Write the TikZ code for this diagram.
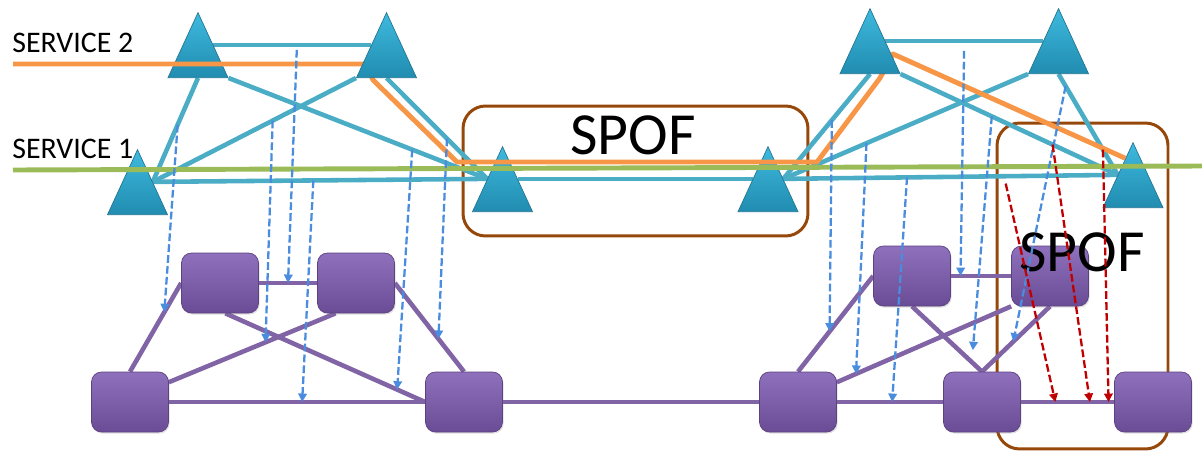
\documentclass[tikz,border=0pt]{standalone}
\usepackage{fontspec}
\setmainfont{Carlito}
\usetikzlibrary{arrows.meta,
                calc,
                shadows,
                shapes.geometric}

\definecolor{vlinkc}{RGB}{75,172,198}
\definecolor{tritop}{RGB}{62,186,222}
\definecolor{tribot}{RGB}{32,140,176}
\definecolor{triedge}{RGB}{36,118,148}
\definecolor{plinkc}{RGB}{128,100,165}
\definecolor{sqtop}{RGB}{142,112,188}
\definecolor{sqbot}{RGB}{106,76,150}
\definecolor{sqedge}{RGB}{92,66,128}
\definecolor{svcgreen}{RGB}{155,187,89}
\definecolor{svcorange}{RGB}{247,150,70}
\definecolor{mapblue}{RGB}{74,140,222}
\definecolor{spofred}{RGB}{192,0,0}
\definecolor{spofbrown}{RGB}{150,72,10}

\pgfdeclarelayer{back}
\pgfdeclarelayer{front}
\pgfsetlayers{back,main,front}

\begin{document}
\begin{tikzpicture}[
    x=0.02cm, y=-0.02cm,
       tri/.style = {isosceles triangle, isosceles triangle stretches, shape border rotate=90,
                     minimum width=12mm, minimum height=13mm, inner sep=0pt, anchor=lower side,
                     top color=tritop, bottom color=tribot, draw=triedge, line width=0.4pt},
       box/.style = {draw=sqedge, line width=0.4pt, rounded corners=2mm,
                     minimum width=15.4mm, minimum height=12mm,
                     top color=sqtop, bottom color=sqbot,
                     drop shadow={opacity=.25, shadow xshift=.6pt, shadow yshift=-.9pt}},
     vlink/.style = {draw=vlinkc, line width=2.6pt},
     plink/.style = {draw=plinkc, line width=2.6pt},
  svc1line/.style = {draw=svcgreen, line width=2.8pt},
  svc2line/.style = {draw=svcorange, line width=2.8pt, line join=round},
  maparrow/.style = {color=mapblue, line width=1.3pt, dash pattern=on 4.4pt off 1.8pt,
                     -{Triangle[length=4.8pt,width=4.8pt]}},
  redarrow/.style = {maparrow, color=spofred},
   spofbox/.style = {draw=spofbrown, line width=1.7pt, rounded corners=4.5mm},
   spoftxt/.style = {inner sep=0pt, font=\fontsize{34}{40}\selectfont},
       svc/.style = {anchor=west, inner sep=0pt, font=\fontsize{17}{20}\selectfont},
    pt/.style = {coordinate, pos=#1}
                    ]
  \useasboundingbox (0,0) rectangle (1202,450);
  % virtual layer
  \node [tri] (T1) at (198,78)    {};
  \node [tri] (T3) at (137.5,215) {};
  \node [tri] (T4) at (502.5,212) {};
  \node [tri] (T5) at (768,212)   {};
  \node [tri] (T7) at (1058.5,74) {};
  \node [tri] (T8) at (1133,208)  {};
  \begin{pgfonlayer}{front}
  \node [tri] (T2) at (386.5,78)  {};
  \node [tri] (T6) at (870,74)    {};
  \end{pgfonlayer}
  % physical layer
  \node [box] (S1) at (220,283)  {};
  \node [box] (S2) at (356,283)  {};
  \node [box] (S3) at (130,402)  {};
  \node [box] (S4) at (464,402)  {};
  \node [box] (S5) at (912,276)  {};
  \node [box] (S6) at (1050,276) {};
  \node [box] (S7) at (798,402)  {};
  \node [box] (S8) at (982,402)  {};
  \node [box] (S9) at (1153,402) {};
  %---
  \begin{pgfonlayer}{back}
  \node [spofbox, minimum width=69mm, minimum height=26mm]    (F1) at (635.5,171)  {};
  \node [spofbox, minimum width=34.2mm, minimum height=65.2mm] (F2) at (1082.5,286) {};
  \draw [vlink]
    (T1.right side)   edge node[pt=.53] (v12) {} (T2.left side)
    (T1.lower side)   edge node[pt=.45] (v13) {} (T3.right side)
    (T2.left corner)  edge node[pt=.41] (v23) {} (T3.right side)
    (T3.right side)   edge node[pt=.48] (v34) {} (T4.left side)
    (T1.right corner) edge node[pt=.71] (v14) {} (T4.left side)
    (T2.lower side)   edge node[pt=.60] (v24) {} (T4.left side)
    (T4.right side)   edge (T5.left side)
    (T6.right side)   edge node[pt=.50] (v67) {} (T7.left side)
    (T6.lower side)   edge node[pt=.44] (v65) {} (T5.right side)
    (T7.left corner)  edge node[pt=.66] (v75) {} (T5.right side)
    (T5.right side)   edge node[pt=.37] (v58) {} node[pt=.66] (w58) {} (T8.left side)
    (T6.right corner) edge node[pt=.42] (v68) {} node[pt=.70] (w68) {} (T8.left side)
    (T7.lower side)   edge node[pt=.12] (v78) {} node[pt=.75] (w78) {} (T8.left side)
    ;
  \draw [plink]
    (S1)          edge node[pt=.50] (p12) {} (S2)
    (S1.west)     edge node[pt=.33] (p13) {} (S3.north)
    (S2.-124)     edge node[pt=.42] (p23) {} (S3.27)
    (S3)          edge node[pt=.52] (p34) {} (S4)
    (S1.-80)      edge node[pt=.86] (p14) {} (S4.west)
    (S2.east)     edge node[pt=.63] (p24) {} (S4.north)
    (S4)          edge (S7)
    (S5)          edge node[pt=.16] (p56) {} (S6)
    (S5.west)     edge node[pt=.58] (p57) {} (S7.north)
    (S6.south west) edge node[pt=.89] (p67) {} (S7.27)
    (S7)          edge node[pt=.52] (p78) {} (S8)
    (S5.south)    edge node[pt=.855] (p58) {} (S8.north)
    (S6.south)    edge node[pt=.54] (p68) {} (S8.north)
    (S8)          edge node[pt=.37] (q1) {} node[pt=.74] (q2) {} node[pt=.94] (q3) {} (S9)
    ;
  \end{pgfonlayer}
  %===
  % services
  \coordinate (s1in)  at (13,170);
  \coordinate (s1out) at (1202,166);
  \coordinate (s2in)  at (13,64);
  \coordinate (s2k1)  at (457,162);
  \coordinate (s2k2)  at (817,162);
  \draw [svc2line] (s2in) -- (366,64) -- (373,80) -- (s2k1) -- (s2k2)
        -- (880,78) -- (893,54) -- ($(T8.apex)!.25!(T8.left corner)$);
  \draw [svc1line] (s1in) -- (s1out);
  \node [svc] (L2) at (12,42.5) {SERVICE 2};
  \node [svc] (L1) at (12,149)  {SERVICE 1};
  %---
  \node [spoftxt] (spof1) at (633,135)  {SPOF};
  \node [spoftxt] (spof2) at (1082,252) {SPOF};
  %---
  % mapping of virtual links on physical links
  \path [maparrow]
    (v12) edge[shorten <=1mm] (p12)
    (v13) edge (p13)
    (v23) edge (p23)
    (v34) edge (p34)
    (v14) edge (p14)
    (v24) edge (p24)
    (v67) edge[shorten <=2mm] (p56)
    (v65) edge (p57)
    (v75) edge (p67)
    (v58) edge (p78)
    (v68) edge[shorten >=2.4mm] (p58)
    (v78) edge (p68)
    ;
  \path [redarrow]
    (w58) edge[shorten <=1.5mm] (q1)
    (w68) edge (q2)
    (w78) edge (q3)
    ;
\end{tikzpicture}
\end{document}
